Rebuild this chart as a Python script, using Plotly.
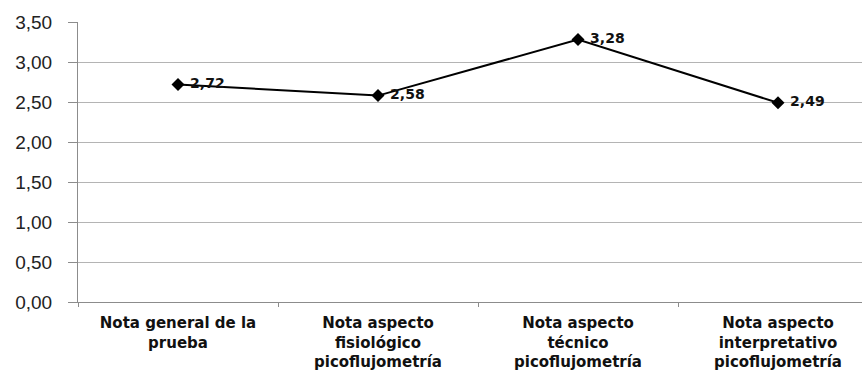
import plotly.graph_objects as go

categories = [
    "Nota general de la<br>prueba",
    "Nota aspecto<br>fisiológico<br>picoflujometría",
    "Nota aspecto<br>técnico<br>picoflujometría",
    "Nota aspecto<br>interpretativo<br>picoflujometría",
]
values = [2.72, 2.58, 3.28, 2.49]
y_ticks = [0, 0.5, 1.0, 1.5, 2.0, 2.5, 3.0, 3.5]

fig = go.Figure()
fig.add_trace(go.Scatter(
    x=categories,
    y=values,
    mode="lines+markers+text",
    line=dict(color="#000000", width=2),
    marker=dict(symbol="diamond", size=10, color="#000000"),
    texttemplate=" %{y:.2f}",
    textposition="middle right",
    textfont=dict(family="DejaVu Sans, sans-serif", size=14, color="#111111", weight="bold"),
    cliponaxis=False,
    showlegend=False,
))

fig.update_layout(
    width=862,
    height=376,
    margin=dict(l=78, r=0, t=22, b=74),
    paper_bgcolor="white",
    plot_bgcolor="white",
    separators=",.",
    font=dict(family="Liberation Sans, Arial, sans-serif", color="#222222"),
)

fig.update_xaxes(
    type="category",
    range=[-0.5, 3.42],
    showgrid=False,
    showline=True,
    linecolor="#8c8c8c",
    linewidth=1,
    ticks="outside",
    tickson="boundaries",
    ticklen=4,
    tickcolor="#8c8c8c",
    ticklabelstandoff=7,
    tickfont=dict(family="DejaVu Sans, sans-serif", size=15, color="#111111", weight="bold"),
)

fig.update_yaxes(
    range=[0, 3.5],
    tickvals=y_ticks,
    tickformat=".2f",
    showgrid=True,
    gridcolor="#b4b4b4",
    gridwidth=1,
    showline=True,
    linecolor="#8c8c8c",
    linewidth=1,
    ticks="outside",
    ticklen=9,
    tickcolor="#8c8c8c",
    ticklabelstandoff=12,
    zeroline=False,
    tickfont=dict(family="Liberation Sans, Arial, sans-serif", size=19, color="#222222"),
)

fig.write_html("out.html")
